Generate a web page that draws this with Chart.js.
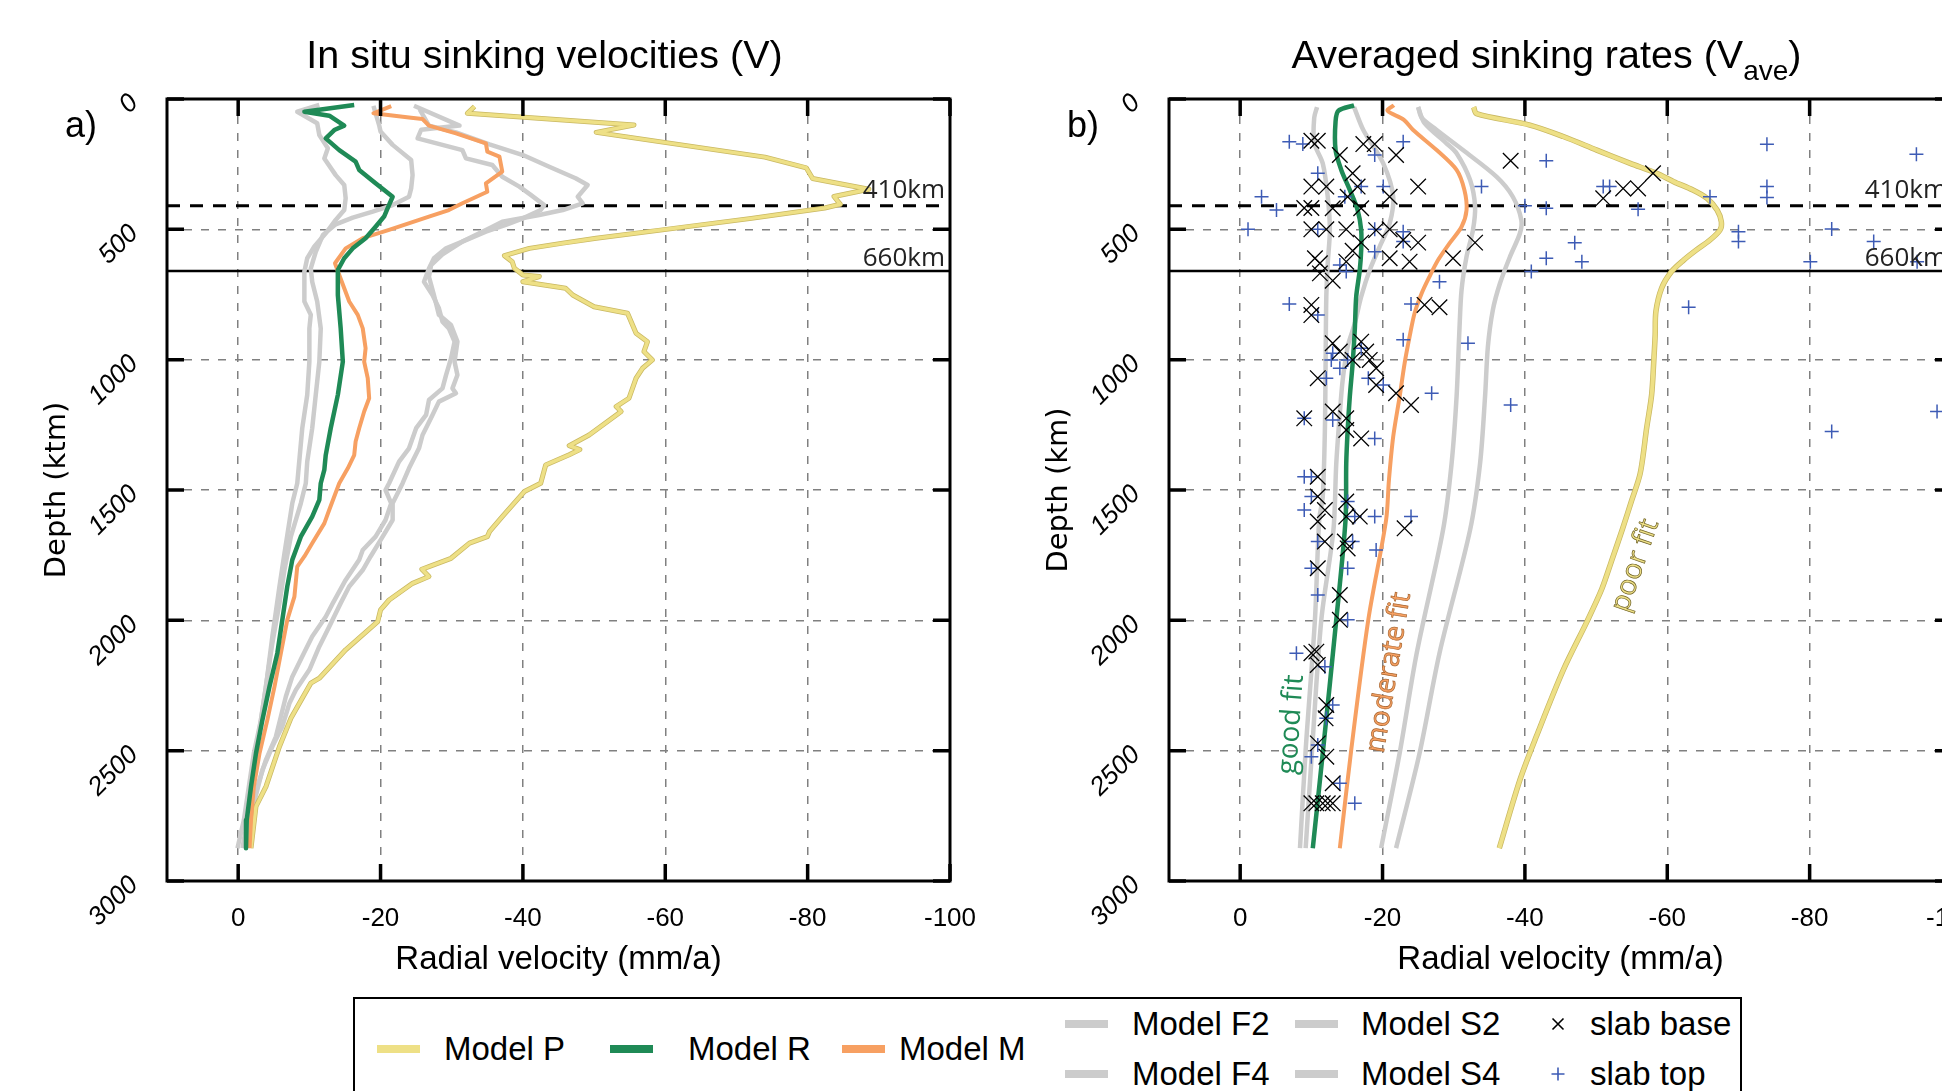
<!DOCTYPE html>
<html lang="en">
<head>
<meta charset="UTF-8">
<title>Slab sinking velocities</title>
<script src="https://cdn.jsdelivr.net/npm/chart.js"></script>
<style>
  body { margin: 0; background: #fff; }
  #wrap { position: relative; width: 1942px; height: 1091px; overflow: hidden; font-family: "Liberation Sans", Arial, sans-serif; }
  #wrap canvas { position: absolute; top: 0; }
  #chartA { left: 0; }
  #chartB { left: 1002px; }
  #legendBox { position: absolute; left: 353px; top: 997px; width: 1389px; height: 150px; border: 2.5px solid #000; box-sizing: border-box; }
  .sw { position: absolute; width: 43px; height: 8px; }
  .lt { position: absolute; font-size: 33px; line-height: 1; transform: translateY(-50%); white-space: nowrap; color: #000; }
  .mk { position: absolute; width: 15px; height: 15px; transform: translate(-50%, -50%); }
</style>
</head>
<body>
<div id="wrap">
  <canvas id="chartA" width="980" height="981"></canvas>
  <canvas id="chartB" width="980" height="981"></canvas>

  <!-- legend -->
  <div id="legendBox"></div>
  <div class="sw" style="left:377px;top:1045px;background:#eee086"></div>
  <div class="lt" style="left:444px;top:1048px">Model P</div>
  <div class="sw" style="left:610px;top:1045px;background:#1f8a56"></div>
  <div class="lt" style="left:688px;top:1048px">Model R</div>
  <div class="sw" style="left:842px;top:1045px;background:#f7a062"></div>
  <div class="lt" style="left:899px;top:1048px">Model M</div>
  <div class="sw" style="left:1065px;top:1020px;background:#cccccc"></div>
  <div class="lt" style="left:1132px;top:1023px">Model F2</div>
  <div class="sw" style="left:1065px;top:1070px;background:#cccccc"></div>
  <div class="lt" style="left:1132px;top:1073px">Model F4</div>
  <div class="sw" style="left:1295px;top:1020px;background:#cccccc"></div>
  <div class="lt" style="left:1361px;top:1023px">Model S2</div>
  <div class="sw" style="left:1295px;top:1070px;background:#cccccc"></div>
  <div class="lt" style="left:1361px;top:1073px">Model S4</div>
  <svg class="mk" style="left:1558px;top:1024px" viewBox="0 0 15 15"><path d="M2 2L13 13M13 2L2 13" stroke="#000" stroke-width="1.6"/></svg>
  <div class="lt" style="left:1590px;top:1023px">slab base</div>
  <svg class="mk" style="left:1558px;top:1074px" viewBox="0 0 15 15"><path d="M7.5 1V14M1 7.5H14" stroke="#3d5bb5" stroke-width="1.6"/></svg>
  <div class="lt" style="left:1590px;top:1073px">slab top</div>
</div>

<script>
// axis ticks and discontinuities (km)
const X_TICKS = [0, -20, -40, -60, -80, -100];
const Y_TICKS = [0, 500, 1000, 1500, 2000, 2500, 3000];
const D410 = 410;
const D660 = 660;

// ---- a) in situ sinking velocities, [depth km, velocity mm/a] ----
const insituP = [[29,-33.2],[55,-32.2],[100,-55.6],[128,-50.3],[223,-74],[264,-79.8],[305,-80.7],[346,-88.6],[374,-83.7],[404,-84.6],[418,-82.4],[458,-72.1],[502,-59.6],[534,-50.3],[553,-45.6],[573,-40.9],[601,-37.4],[624,-38.5],[649,-38.8],[675,-40],[681,-42.3],[701,-40],[726,-46],[752,-47],[797,-50],[822,-54.7],[899,-55.9],[931,-57.5],[969,-57],[1001,-58.2],[1033,-56.8],[1071,-55.9],[1148,-54.9],[1180,-53.1],[1199,-53.8],[1289,-49.3],[1330,-46.5],[1345,-48],[1365,-46.5],[1404,-43.2],[1474,-42.5],[1506,-40.2],[1602,-37.1],[1660,-35.3],[1679,-35],[1704,-32.5],[1762,-29.9],[1794,-26.8],[1804,-25.8],[1832,-26.8],[1858,-24.5],[1922,-21.2],[1960,-20],[2005,-19.6],[2113,-15.1],[2222,-11.4],[2241,-10.2],[2318,-8.6],[2376,-7.4],[2484,-5.8],[2638,-3.9],[2714,-2.5],[2874,-1.8]];
const insituR = [[23,-16.3],[49,-9.3],[64,-12.8],[102,-14.9],[119,-13.5],[151,-12.3],[196,-14.2],[240,-16.5],[272,-17],[323,-19.3],[375,-21.7],[419,-21],[451,-20.5],[490,-19.3],[534,-17.9],[573,-16.1],[611,-14.9],[656,-14],[752,-14],[880,-14.4],[1008,-14.7],[1135,-14],[1263,-13],[1366,-12.3],[1423,-12.1],[1474,-11.6],[1538,-11.4],[1602,-10.4],[1679,-8.8],[1768,-7.6],[1870,-6.9],[1998,-6.2],[2126,-5.5],[2254,-4.4],[2382,-3.4],[2510,-2.5],[2638,-1.8],[2766,-1.2],[2874,-1.1]];
const insituM = [[27,-21.5],[55,-19],[72,-24.3],[77,-25.9],[102,-26.8],[132,-30.6],[170,-34.8],[202,-35],[221,-36.7],[279,-37.1],[324,-34.8],[356,-35],[400,-31.5],[426,-29.6],[451,-26.8],[502,-21.2],[534,-17.5],[573,-15.1],[630,-13.6],[675,-14.2],[726,-14.9],[777,-15.6],[828,-16.8],[880,-17.5],[956,-17.9],[1008,-17.7],[1071,-18.2],[1148,-18.4],[1199,-17.7],[1263,-17],[1314,-16.5],[1366,-16.3],[1417,-15.4],[1474,-14.2],[1576,-12.8],[1628,-12.1],[1704,-10.4],[1755,-9.3],[1794,-8.3],[1909,-7.9],[1998,-6.9],[2126,-6],[2254,-5.1],[2382,-4.1],[2510,-3],[2638,-2.2],[2766,-1.8],[2874,-1.6]];
const insituF2 = [[23,-11.4],[49,-8.3],[93,-11.1],[138,-11.4],[189,-12.6],[228,-12.1],[292,-13.7],[330,-14.9],[381,-15.1],[426,-14.9],[464,-13.7],[515,-12.3],[566,-10.7],[611,-9.7],[662,-9.3],[777,-9.3],[828,-10.2],[880,-10],[1008,-10],[1135,-9.7],[1263,-9],[1474,-8.3],[1551,-7.6],[1743,-6.5],[1870,-5.8],[2062,-4.8],[2254,-3.9],[2382,-3.2],[2510,-2.2],[2638,-1.5],[2766,-0.8],[2874,0.1]];
const insituF4 = [[26,-19],[100,-19.8],[125,-20],[176,-21.7],[234,-24.3],[292,-24.5],[343,-24.3],[375,-24],[407,-21.7],[432,-18.9],[455,-16.1],[481,-13.7],[522,-11.9],[586,-10.9],[650,-10.2],[701,-10.4],[777,-11.1],[880,-11.6],[1008,-11.4],[1135,-10.9],[1263,-10.4],[1391,-9.7],[1474,-9.5],[1551,-8.8],[1679,-7.4],[1807,-6.5],[1934,-5.8],[2088,-4.8],[2216,-4.1],[2344,-3.4],[2471,-2.7],[2599,-2],[2766,-1.3],[2874,-0.6]];
const insituS2 = [[26,-24.7],[102,-31.1],[118,-25.7],[151,-25.2],[196,-31.5],[228,-32],[253,-35.7],[298,-37.1],[336,-39.5],[368,-41.1],[407,-43],[426,-42.5],[458,-40],[483,-37.6],[509,-34.8],[547,-31.5],[573,-29.2],[611,-27.5],[650,-26.8],[701,-26.1],[752,-27.3],[803,-28.2],[854,-28.7],[880,-29.6],[931,-30.4],[995,-29.9],[1059,-29.2],[1110,-28.7],[1155,-26.8],[1212,-26.4],[1263,-25],[1340,-24],[1391,-22.6],[1474,-21.2],[1500,-20.7],[1551,-21.5],[1615,-20.7],[1679,-19.3],[1730,-17.5],[1768,-17],[1845,-15.1],[1934,-13.3],[1986,-12.3],[2062,-10.4],[2139,-9],[2216,-7.6],[2292,-6.7],[2369,-6],[2446,-5.3],[2535,-3.9],[2638,-2.7],[2766,-1.5],[2874,-0.8]];
const insituS4 = [[40,-25.5],[102,-26.8],[128,-30.6],[174,-35.3],[215,-40],[260,-43.7],[304,-47.4],[330,-49.1],[375,-47.7],[400,-48.4],[426,-45.6],[445,-42.3],[471,-37.1],[496,-35.3],[547,-31.5],[596,-28.7],[637,-27.1],[682,-26.8],[752,-27.5],[828,-28.2],[867,-29.9],[931,-30.8],[1008,-30.4],[1059,-30.8],[1110,-30.1],[1129,-30.6],[1161,-28.2],[1212,-27.3],[1289,-25.9],[1340,-25.4],[1417,-24],[1474,-23.1],[1551,-21.7],[1615,-21.7],[1679,-20.3],[1755,-18.6],[1807,-17.5],[1870,-15.6],[1934,-14.4],[2024,-12.8],[2100,-11.4],[2190,-10],[2267,-8.1],[2318,-7.2],[2407,-6.2],[2484,-4.8],[2574,-3.4],[2702,-2.2],[2874,-1.3]];

// ---- b) averaged sinking rates ----
const aveP = [[31,-32.8],[56,-33.2],[100,-40.7],[144,-45.4],[196,-50.1],[247,-54.8],[285,-58.5],[317,-60.9],[349,-63.6],[381,-65.6],[426,-67],[471,-67.6],[503,-67.4],[541,-66],[579,-64.1],[618,-62.3],[662,-60.6],[726,-59.2],[816,-58.4],[905,-58.3],[1007,-58.1],[1135,-57.8],[1263,-57.1],[1436,-56.2],[1540,-55],[1650,-53.7],[1770,-52.2],[1880,-50.8],[2000,-48.8],[2190,-45.4],[2446,-41.6],[2612,-39.3],[2874,-36.4]];
const aveR = [[24,-16],[45,-13.8],[86,-13.4],[196,-13.4],[272,-14.2],[349,-15.4],[426,-16.5],[503,-17],[579,-17],[656,-16.8],[758,-16.3],[886,-16.1],[1014,-15.8],[1142,-15.4],[1270,-15.1],[1398,-14.9],[1615,-14.8],[1998,-13.5],[2510,-11.6],[2874,-10.2]];
const aveM = [[24,-21.6],[45,-20.7],[80,-23],[119,-24.3],[196,-27.6],[272,-30.4],[349,-31.5],[426,-31.8],[490,-31.1],[554,-29.4],[618,-27.8],[681,-26.6],[745,-25.5],[822,-24.5],[912,-23.8],[1014,-23.1],[1142,-22.4],[1295,-21.5],[1461,-20.9],[1615,-20.5],[1998,-18],[2497,-15.6],[2874,-14]];
const aveF2 = [[31,-10.8],[72,-10.4],[168,-10.4],[247,-11.6],[375,-12.3],[503,-12.6],[630,-12.3],[758,-12.1],[1014,-12],[1270,-11.9],[1525,-11.6],[1615,-11.1],[1998,-10.5],[2497,-9.2],[2874,-8.4]];
const aveF4 = [[31,-16],[119,-17.3],[247,-20.1],[375,-21.5],[477,-21],[566,-19.6],[656,-18.2],[758,-17],[861,-16.1],[950,-15.1],[1078,-14.4],[1206,-14],[1398,-13.5],[1653,-13.1],[1998,-11.4],[2497,-10.1],[2874,-9.2]];
const aveS2 = [[31,-25],[93,-25.9],[168,-28.9],[208,-30.4],[311,-32.3],[413,-33],[503,-32.7],[605,-31.8],[733,-31.1],[886,-30.8],[1142,-30.4],[1398,-29.7],[1653,-28.5],[2126,-24.8],[2510,-22.4],[2874,-19.8]];
const aveS4 = [[31,-25],[72,-25.5],[119,-27.6],[196,-31.3],[298,-36],[375,-38.3],[464,-39.5],[515,-39.3],[605,-37.9],[707,-36.5],[809,-35.5],[950,-34.8],[1142,-34.4],[1398,-33.7],[1653,-32.3],[2126,-28],[2510,-25.2],[2874,-21.9]];

// slab observations, [depth km, velocity mm/a]
const slabBase = [[160,-10],[160,-10.9],[173,-17.3],[173,-18.9],[215,-21.9],[215,-14],[237,-38],[285,-15.8],[336,-10],[336,-12.1],[336,-16.5],[336,-25],[375,-21],[375,-15.1],[343,-53.8],[343,-55.9],[285,-58],[381,-51],[418,-9],[418,-10],[419,-13],[419,-17],[500,-10],[500,-12.1],[500,-14.9],[500,-21],[503,-19.1],[551,-17],[551,-25],[541,-22.9],[551,-33],[582,-15.8],[611,-21],[624,-23.8],[611,-29.9],[611,-10.5],[630,-11.2],[669,-11.2],[697,-13],[624,-14.9],[790,-10],[829,-10],[790,-25.9],[799,-28],[937,-13],[969,-14],[931,-17],[969,-17.7],[1001,-15.8],[1001,-18.2],[1033,-19.1],[1097,-19.1],[1071,-10.9],[1129,-21.9],[1174,-24],[1225,-9],[1199,-13],[1225,-14.9],[1270,-14.9],[1302,-17],[1449,-10.9],[1525,-10.9],[1577,-11.9],[1621,-10.9],[1544,-14.9],[1602,-16.8],[1602,-14.9],[1647,-23.1],[1698,-11.9],[1698,-14.7],[1724,-15.1],[1800,-10.9],[1903,-14],[1998,-14],[2126,-10],[2120,-10.7],[2171,-10.9],[2325,-12.1],[2376,-12],[2472,-10.9],[2523,-12.1],[2625,-13],[2702,-10],[2702,-10.7],[2702,-11.6],[2702,-12.3],[2702,-13]];
const slabTop = [[164,-6.9],[173,-8.8],[164,-22.9],[215,-18.9],[237,-43],[285,-10.9],[375,-3],[336,-17],[336,-20.1],[336,-33.9],[375,-14.7],[336,-51],[336,-51.9],[375,-66],[426,-5.1],[410,-40],[419,-43],[423,-55.9],[500,-1.1],[500,-10.9],[500,-18.9],[509,-22.9],[547,-22.9],[551,-47],[586,-18.9],[637,-14],[662,-14.9],[611,-43],[624,-48],[662,-40.9],[701,-28],[786,-6.9],[829,-10.9],[786,-24],[799,-63],[924,-22.9],[937,-32],[956,-17],[975,-13],[1001,-12.8],[1033,-14],[1001,-15.1],[1071,-12.1],[1071,-18],[1097,-20.1],[1129,-26.9],[1174,-38],[1225,-9],[1231,-13],[1302,-18.9],[1449,-9],[1449,-10],[1525,-10],[1577,-9],[1544,-15.1],[1602,-16.1],[1602,-18.9],[1602,-24],[1698,-10.9],[1698,-15.8],[1730,-19.1],[1800,-10],[1800,-15.1],[1903,-10.9],[1998,-15.1],[2126,-7.9],[2178,-11.9],[2325,-13],[2376,-12.1],[2478,-10.9],[2523,-10],[2625,-14],[2702,-16.1],[174,-74],[212,-95],[336,-74],[378,-74],[509,-70],[547,-70],[499,-83.1],[547,-89],[624,-95.1],[624,-80.1],[1199,-97.9],[1276,-83.1]];

// fit labels on panel b: text, velocity, depth, angle, colour, outline
const FIT_LABELS = [
  ['good fit', -7.2, 2400, -86, '#1f8a56', null],
  ['moderate fit', -20.9, 2200, -80.5, '#f7a062', '#a8652e'],
  ['poor fit', -55.5, 1790, -71, '#eee086', '#6e6126']
];

const GREY = '#cccccc', GREEN = '#1f8a56', ORANGE = '#f7a062', YELLOW = '#eee086', YEDGE = '#c9b862';
const FONT = '"Liberation Sans", Arial, sans-serif';

function pts(pairs) {
  return pairs.map(([d, v]) => ({ x: v, y: d }));
}

function curve(pairs, color, width, tension) {
  return {
    data: pts(pairs), showLine: true, borderColor: color, borderWidth: width,
    pointRadius: 0, borderJoinStyle: 'round', tension: tension || 0
  };
}

function decor(panel) {
  return {
    id: 'decor',
    beforeDatasetsDraw(chart) {
      const { ctx, chartArea: a, scales: { y } } = chart;
      ctx.save();
      ctx.strokeStyle = '#000';
      let py = y.getPixelForValue(D410);
      ctx.lineWidth = 3;
      ctx.setLineDash([13, 10]);
      ctx.beginPath(); ctx.moveTo(a.left, py); ctx.lineTo(a.right, py); ctx.stroke();
      py = y.getPixelForValue(D660);
      ctx.setLineDash([]);
      ctx.lineWidth = 2.5;
      ctx.beginPath(); ctx.moveTo(a.left, py); ctx.lineTo(a.right, py); ctx.stroke();
      ctx.restore();
    },
    afterDraw(chart) {
      const { ctx, chartArea: a, scales: { x, y } } = chart;
      ctx.save();
      // frame and inward ticks
      ctx.strokeStyle = '#000';
      ctx.lineWidth = 3;
      ctx.strokeRect(a.left, a.top, a.right - a.left, a.bottom - a.top);
      ctx.lineWidth = 3.5;
      ctx.beginPath();
      X_TICKS.forEach(v => {
        const px = x.getPixelForValue(v);
        ctx.moveTo(px, a.top); ctx.lineTo(px, a.top + 17);
        ctx.moveTo(px, a.bottom); ctx.lineTo(px, a.bottom - 17);
      });
      Y_TICKS.forEach(v => {
        const py = y.getPixelForValue(v);
        ctx.moveTo(a.left, py); ctx.lineTo(a.left + 17, py);
        ctx.moveTo(a.right, py); ctx.lineTo(a.right - 17, py);
      });
      ctx.stroke();

      // discontinuity labels
      ctx.fillStyle = '#222';
      ctx.font = '26px "Open Sans", sans-serif';
      ctx.textAlign = 'right';
      ctx.textBaseline = 'alphabetic';
      ctx.fillText('410km', a.right - 5, y.getPixelForValue(D410) - 8);
      ctx.fillText('660km', a.right - 5, y.getPixelForValue(D660) - 5);

      // fit labels
      (panel.fits || []).forEach(([txt, v, d, ang, col, edge]) => {
        ctx.save();
        ctx.translate(x.getPixelForValue(v), y.getPixelForValue(d));
        ctx.rotate(ang * Math.PI / 180);
        ctx.font = '28px "Open Sans", sans-serif';
        ctx.textAlign = 'center';
        ctx.textBaseline = 'middle';
        ctx.fillStyle = col;
        ctx.fillText(txt, 0, 0);
        if (edge) { ctx.lineWidth = 0.7; ctx.strokeStyle = edge; ctx.strokeText(txt, 0, 0); }
        ctx.restore();
      });

      // panel title (with optional subscript)
      ctx.fillStyle = '#000';
      ctx.textAlign = 'left';
      const cx = (a.left + a.right) / 2 - 14;
      const big = '39.5px ' + FONT, small = '28px ' + FONT;
      const parts = panel.title;
      let total = 0;
      parts.forEach(([t, sub]) => { ctx.font = sub ? small : big; total += ctx.measureText(t).width; });
      let tx = cx - total / 2;
      parts.forEach(([t, sub]) => {
        ctx.font = sub ? small : big;
        ctx.fillText(t, tx, sub ? 80 : 68);
        tx += ctx.measureText(t).width;
      });

      // panel letter
      ctx.font = '36px ' + FONT;
      ctx.fillText(panel.letter, a.left - 102, 137);
      ctx.restore();
    }
  };
}

function makeChart(id, panel) {
  new Chart(document.getElementById(id), {
    type: 'scatter',
    data: { datasets: panel.datasets },
    options: {
      responsive: false,
      animation: false,
      devicePixelRatio: 1,
      events: [],
      layout: { padding: { top: 99, right: 30, bottom: 0, left: 0 } },
      plugins: { legend: { display: false }, tooltip: { enabled: false } },
      scales: {
        x: {
          type: 'linear', min: -100, max: 10, reverse: true,
          afterFit: s => { s.height = 100; s.paddingLeft = 0; s.paddingRight = 0; },
          afterBuildTicks: s => { s.ticks = X_TICKS.map(value => ({ value })); },
          ticks: { callback: v => String(v), font: { family: FONT, size: 26 }, color: '#000', padding: 22, maxRotation: 0, autoSkip: false },
          grid: { color: '#808080', lineWidth: 1.5, drawTicks: false },
          border: { display: false, dash: [8, 9] },
          title: { display: true, text: 'Radial velocity (mm/a)', color: '#000', font: { family: FONT, size: 33 }, padding: { top: 0, bottom: 1 } }
        },
        y: {
          type: 'linear', min: 0, max: 3000, reverse: true,
          afterFit: s => { s.width = 167; s.paddingTop = 0; s.paddingBottom = 0; },
          afterBuildTicks: s => { s.ticks = Y_TICKS.map(value => ({ value })); },
          ticks: { callback: v => String(v), font: { family: FONT, size: 26, style: 'italic' }, color: '#000', padding: 33, minRotation: 45, maxRotation: 45, autoSkip: false },
          grid: { color: '#808080', lineWidth: 1.5, drawTicks: false },
          border: { display: false, dash: [8, 9] },
          title: { display: true, text: panel.yTitle, color: '#000', font: { family: '"DejaVu Sans", sans-serif', size: 29 }, padding: { top: 40, bottom: 0 } }
        }
      }
    },
    plugins: [decor(panel)]
  });
}

// first dataset is drawn on top
makeChart('chartA', {
  letter: 'a)',
  title: [['In situ sinking velocities (V)']],
  yTitle: 'Depth (ktm)',
  datasets: [
    curve(insituR, GREEN, 4.5),
    curve(insituM, ORANGE, 4),
    curve(insituP, YELLOW, 3.5),
    curve(insituP, YEDGE, 5),
    curve(insituF2, GREY, 4.5),
    curve(insituF4, GREY, 4.5),
    curve(insituS2, GREY, 4.5),
    curve(insituS4, GREY, 4.5)
  ]
});

makeChart('chartB', {
  letter: 'b)',
  title: [['Averaged sinking rates (V'], ['ave', true], [')']],
  yTitle: 'Depth (km)',
  fits: FIT_LABELS,
  datasets: [
    { data: pts(slabBase), showLine: false, pointStyle: 'crossRot', pointRadius: 11, pointBorderWidth: 1.3, pointBorderColor: '#000', pointBackgroundColor: 'transparent' },
    { data: pts(slabTop), showLine: false, pointStyle: 'cross', pointRadius: 7, pointBorderWidth: 1.5, pointBorderColor: '#3d5bb5', pointBackgroundColor: 'transparent' },
    curve(aveR, GREEN, 4.5, 0.3),
    curve(aveM, ORANGE, 4, 0.3),
    curve(aveP, YELLOW, 4, 0.3),
    curve(aveP, YEDGE, 5.5, 0.3),
    curve(aveF2, GREY, 4.5, 0.3),
    curve(aveF4, GREY, 4.5, 0.3),
    curve(aveS2, GREY, 4.5, 0.3),
    curve(aveS4, GREY, 4.5, 0.3)
  ]
});
</script>
</body>
</html>
